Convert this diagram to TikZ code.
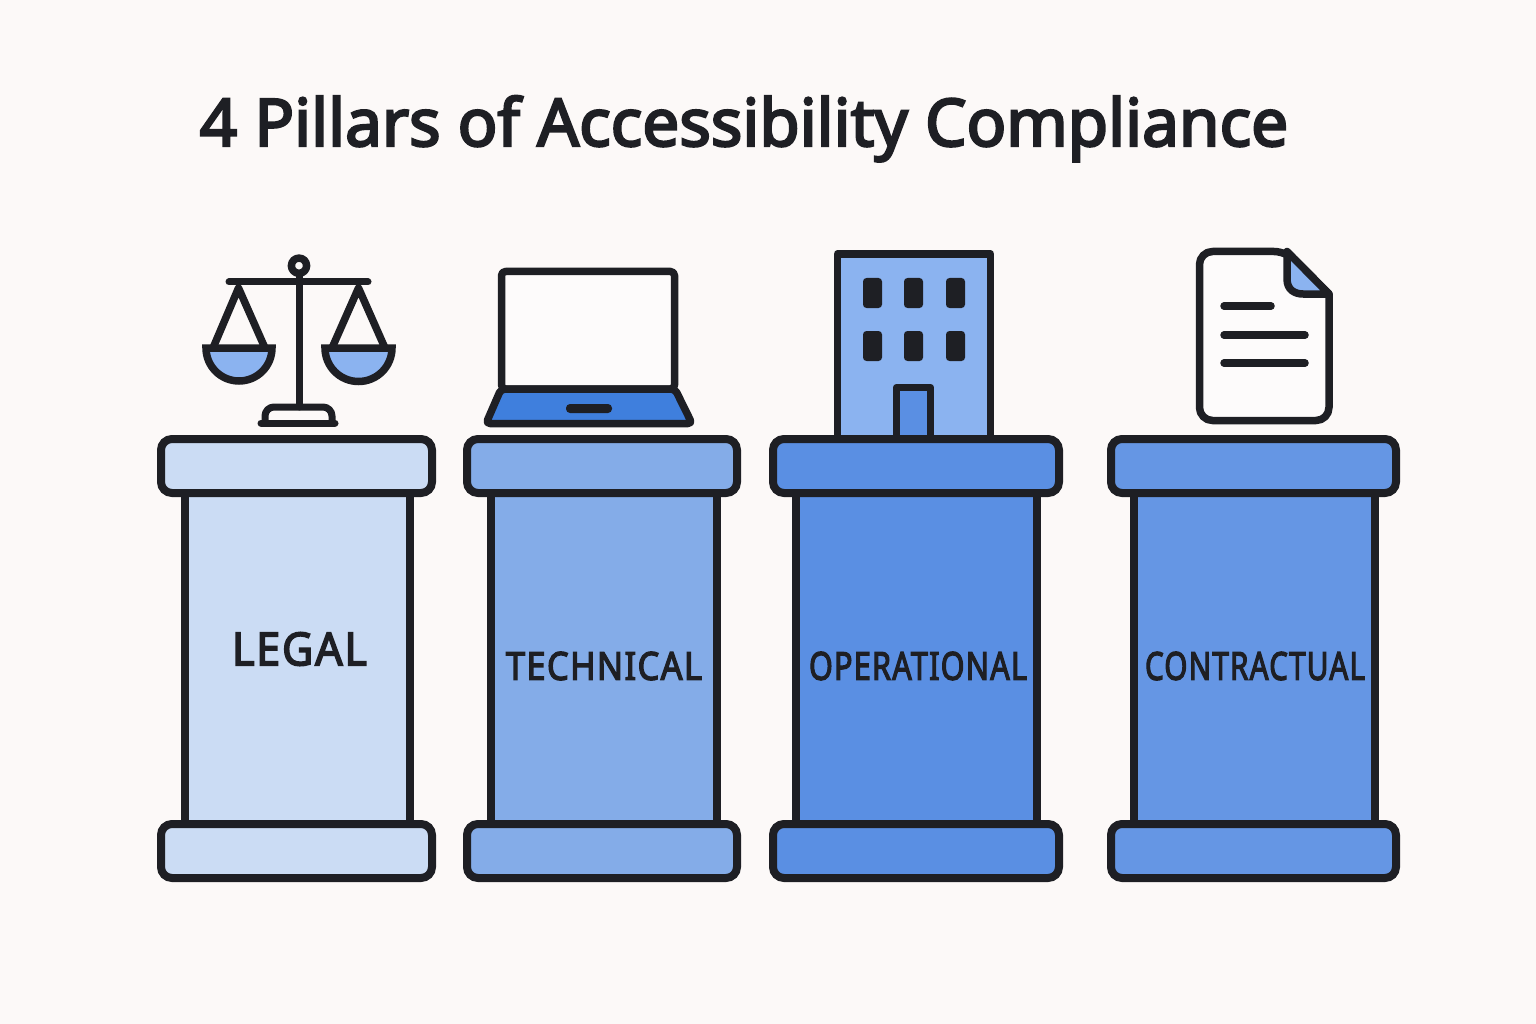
\documentclass[tikz,border=0pt]{standalone}
\usepackage{fontspec}
\usepackage{graphicx}
\newfontfamily\titlefont[FakeBold=3.5]{Noto Sans}
\newfontfamily\labelfont[FakeBold=3.5,LetterSpace=4]{Noto Sans}
\definecolor{ink}{HTML}{1E1F24}
\definecolor{paper}{HTML}{FCF9F8}
\definecolor{fillA}{HTML}{CBDCF4}
\definecolor{fillB}{HTML}{84ACE8}
\definecolor{fillC}{HTML}{5A8FE3}
\definecolor{fillD}{HTML}{6596E4}
\definecolor{iconlight}{HTML}{8BB3F0}
\definecolor{iconblue}{HTML}{3F7FDD}
\tikzset{
  x=1pt,y=-1pt,
  icon/.style={draw=ink,line width=7.5pt,line join=round,line cap=round},
  capbox/.style={draw=ink,line width=8pt,rounded corners=11pt,inner sep=0pt,outer sep=0pt,anchor=north west},
  shaftbox/.style={draw=ink,line width=8pt,inner sep=0pt,outer sep=0pt,anchor=north west},
  pillartext/.style={text=ink,inner sep=0pt},
  windowbox/.style={fill=ink,rounded corners=3.5pt}
}
% name, left, width of cap, shaft left, shaft width, fill
\newcommand{\pillarbody}[6]{%
  \node[shaftbox,fill=#6,minimum width=#5pt,minimum height=332pt] (#1shaft) at (#4,493) {};
  \node[capbox,fill=#6,minimum width=#3pt,minimum height=54pt] (#1top) at (#2,439) {};
  \node[capbox,fill=#6,minimum width=#3pt,minimum height=54pt] (#1base) at (#2,824) {};
}
\begin{document}
\begin{tikzpicture}
\useasboundingbox (0,0) rectangle (1536,1024);
\fill[paper] (0,0) rectangle (1536,1024);
\node[text=ink,inner sep=0pt,anchor=base] (title) at (744,146) {\resizebox{1088pt}{!}{\titlefont 4 Pillars of Accessibility Compliance}};

% scale icon
\draw[icon,line width=7pt,fill=paper] (265,423) -- (265,416) arc[start angle=180,end angle=270,radius=9] -- (323,407) arc[start angle=270,end angle=360,radius=9] -- (332,423);
\draw[icon,line width=7pt] (299,276) -- (299,407);
\draw[icon,line width=7pt] (229,282) -- (368,282);
\draw[icon,line width=7pt] (261,423) -- (335,423);
\draw[icon,fill=paper] (299,265.7) circle[radius=7.6];
\draw[icon,line cap=butt] (213,348) -- (238.5,288) -- (265,348);
\draw[icon,line cap=butt] (332,348) -- (358.5,288) -- (385,348);
\draw[icon,fill=iconlight,line join=miter] (206,348) -- (272,348) arc[start angle=0,end angle=180,radius=33] -- cycle;
\draw[icon,fill=iconlight,line join=miter] (325,348) -- (392,348) arc[start angle=0,end angle=180,radius=33.5] -- cycle;

% laptop icon
\draw[icon,fill=white!40!paper,rounded corners=4pt] (501.5,389) -- (501.5,271.5) -- (674.5,271.5) -- (674.5,389) -- cycle;
\draw[icon,fill=iconblue,rounded corners=4pt] (501,389) -- (675,389) -- (692,423.5) -- (486,423.5) -- cycle;
\fill[ink,rounded corners=4pt] (566,404) rectangle (612,413);

% building icon
\draw[icon,fill=iconlight,line join=round] (837.5,440) -- (837.5,254) -- (990.5,254) -- (990.5,440);
\foreach \wx/\wy in {863/278,904/278,946/278,863/331,904/331,946/331}
  \fill[windowbox] (\wx,\wy) rectangle ++(19,30);
\draw[icon,fill=fillC,line join=round] (896.5,440) -- (896.5,387.5) -- (930.5,387.5) -- (930.5,440);

% document icon
\draw[icon,fill=white!40!paper,rounded corners=13pt] (1199.5,420.5) -- (1199.5,251.5) -- (1287,251.5) [sharp corners] -- (1329,294) [rounded corners=13pt] -- (1329,420.5) -- cycle;
\draw[icon,fill=iconlight] (1287,251.5) -- (1287,279) .. controls (1287,290) and (1295,294) .. (1303,294) -- (1329,294) -- cycle;
\draw[icon] (1224,306) -- (1271,306);
\draw[icon] (1224,335) -- (1305,335);
\draw[icon] (1224,363) -- (1305,363);

% pillars
\pillarbody{legal}{161}{271}{185}{225}{fillA}
\pillarbody{technical}{467}{270}{491}{226}{fillB}
\pillarbody{operational}{773}{286}{796}{241}{fillC}
\pillarbody{contractual}{1111}{285}{1134}{241}{fillD}

\node[pillartext] (legaltext) at (299.5,649) {\resizebox{135pt}{33pt}{\labelfont LEGAL}};
\node[pillartext] (technicaltext) at (604,666) {\resizebox{196pt}{28pt}{\labelfont TECHNICAL}};
\node[pillartext] (operationaltext) at (918,666) {\resizebox{218pt}{28pt}{\labelfont OPERATIONAL}};
\node[pillartext] (contractualtext) at (1255,666) {\resizebox{220pt}{28pt}{\labelfont CONTRACTUAL}};
\end{tikzpicture}
\end{document}
